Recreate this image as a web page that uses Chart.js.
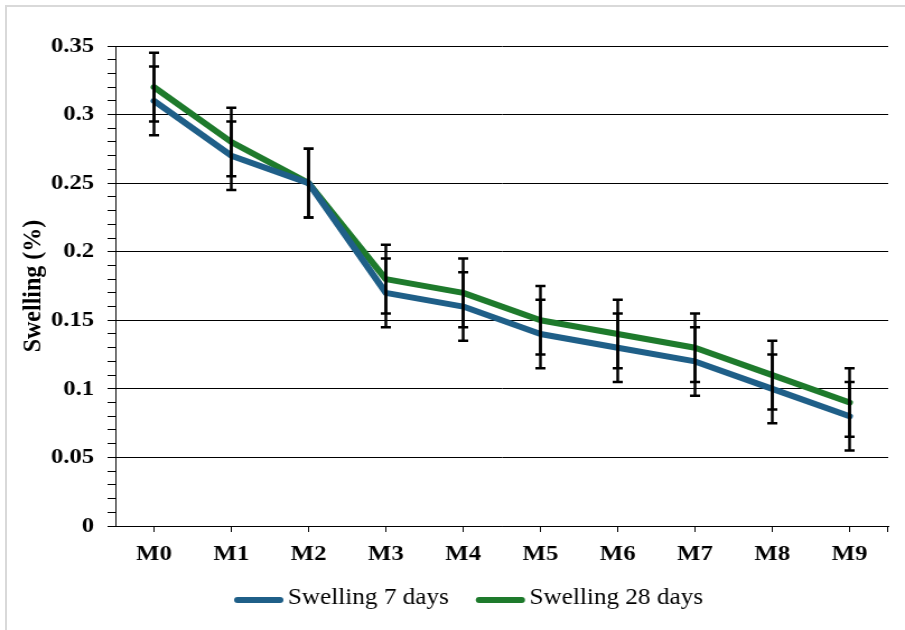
<!DOCTYPE html>
<html>
<head>
<meta charset="utf-8">
<script src="https://cdn.jsdelivr.net/npm/chart.js@4.4.1/dist/chart.umd.min.js"></script>
<style>
    html, body { margin: 0; padding: 0; background: #fff; }
    #wrap { position: relative; width: 905px; height: 630px; overflow: hidden; }
    #chart { position: absolute; left: 0; top: 0; }
    #frame { position: absolute; left: 5px; top: 5px; right: -5px; bottom: -5px;
             border-left: 2px solid #d9d9d9; border-top: 2px solid #d9d9d9; pointer-events: none; }
</style>
</head>
<body>
<div id="wrap">
    <!-- chart is drawn narrower and stretched sideways, like the source image -->
    <canvas id="chart" width="808" height="630" style="width:905px;height:630px"></canvas>
    <div id="frame"></div>
</div>
<script>
// Data
const categories = ['M0', 'M1', 'M2', 'M3', 'M4', 'M5', 'M6', 'M7', 'M8', 'M9'];
const swelling7 = [0.31, 0.27, 0.25, 0.17, 0.16, 0.14, 0.13, 0.12, 0.10, 0.08];
const swelling28 = [0.32, 0.28, 0.25, 0.18, 0.17, 0.15, 0.14, 0.13, 0.11, 0.09];
const error7 = [0.025, 0.025, 0.025, 0.025, 0.025, 0.025, 0.025, 0.025, 0.025, 0.025];
const error28 = [0.025, 0.025, 0.025, 0.025, 0.025, 0.025, 0.025, 0.025, 0.025, 0.025];
const yMin = 0, yMax = 0.35, yMinorStep = 0.01;

Chart.defaults.font.family = "'Liberation Serif', 'Times New Roman', serif";
Chart.defaults.color = '#000';

function isMajor(v) {
    return Math.round(v * 100) % 5 === 0;
}

// Error bars drawn on top of the lines
const errorBars = {
    id: 'errorBars',
    afterDatasetsDraw(chart) {
        const ctx = chart.ctx;
        const xs = chart.scales.x;
        const ys = chart.scales.y;
        ctx.save();
        ctx.strokeStyle = '#000';
        ctx.lineWidth = 2.5;
        chart.data.datasets.forEach(ds => {
            ds.data.forEach((v, i) => {
                const e = ds.errors[i];
                const x = xs.getPixelForValue(i);
                const top = ys.getPixelForValue(v + e);
                const bot = ys.getPixelForValue(v - e);
                ctx.beginPath();
                ctx.moveTo(x, top);
                ctx.lineTo(x, bot);
                ctx.moveTo(x - 4.5, top);
                ctx.lineTo(x + 4.5, top);
                ctx.moveTo(x - 4.5, bot);
                ctx.lineTo(x + 4.5, bot);
                ctx.stroke();
            });
        });
        ctx.restore();
    }
};

// Legend under the axis + closing tick at the right end of the x axis
const bottomLegend = {
    id: 'bottomLegend',
    afterDraw(chart) {
        const ctx = chart.ctx;
        const area = chart.chartArea;
        ctx.save();
        ctx.strokeStyle = '#000';
        ctx.lineWidth = 1;
        ctx.beginPath();
        ctx.moveTo(Math.round(area.right) - 0.5, area.bottom);
        ctx.lineTo(Math.round(area.right) - 0.5, area.bottom + 6);
        ctx.stroke();

        ctx.font = "22.5px 'Liberation Serif'";
        ctx.textBaseline = 'middle';
        ctx.lineCap = 'round';
        let x = 212;
        chart.data.datasets.forEach(ds => {
            ctx.strokeStyle = ds.borderColor;
            ctx.lineWidth = 6;
            ctx.beginPath();
            ctx.moveTo(x, 600);
            ctx.lineTo(x + 38, 600);
            ctx.stroke();
            ctx.fillStyle = '#000';
            ctx.fillText(ds.label, x + 45, 598);
            x += 45 + ctx.measureText(ds.label).width + 27;
        });
        ctx.restore();
    }
};

const ctx = document.getElementById('chart').getContext('2d');
const chart = new Chart(ctx, {
    type: 'line',
    data: {
        labels: categories,
        datasets: [{
            label: 'Swelling 7 days',
            data: swelling7,
            errors: error7,
            borderColor: '#1F5F88',
            borderWidth: 6
        }, {
            label: 'Swelling 28 days',
            data: swelling28,
            errors: error28,
            borderColor: '#1E7A2C',
            borderWidth: 6
        }]
    },
    options: {
        responsive: false,
        animation: false,
        layout: { padding: { top: 46, right: 15, left: 0, bottom: 0 } },
        elements: {
            point: { radius: 0, hoverRadius: 0 },
            line: { tension: 0, borderCapStyle: 'round', borderJoinStyle: 'round' }
        },
        plugins: {
            legend: { display: false },
            tooltip: { enabled: false }
        },
        scales: {
            x: {
                offset: true,
                grid: { offset: false, drawOnChartArea: false, tickLength: 6, color: '#000' },
                border: { color: '#000', width: 1 },
                ticks: { font: { size: 22, weight: 'bold' }, padding: 9, maxRotation: 0, autoSkip: false },
                afterFit: (scale) => { scale.height = 104; }
            },
            y: {
                min: yMin,
                max: yMax,
                grid: {
                    color: (c) => isMajor(c.tick.value) ? '#000' : 'rgba(0,0,0,0)',
                    tickColor: '#000',
                    tickLength: 7
                },
                border: { color: '#000', width: 1 },
                ticks: {
                    stepSize: yMinorStep,
                    autoSkip: false,
                    padding: 12,
                    font: { size: 22, weight: 'bold' },
                    callback: (v) => isMajor(v) ? String(Math.round(v * 100) / 100) : ''
                },
                title: {
                    display: true,
                    text: 'Swelling (%)',
                    font: { size: 24, weight: 'bold' },
                    padding: { top: 15, bottom: 0 }
                },
                afterFit: (scale) => { scale.width = 103; }
            }
        }
    },
    plugins: [errorBars, bottomLegend]
});
</script>
</body>
</html>
